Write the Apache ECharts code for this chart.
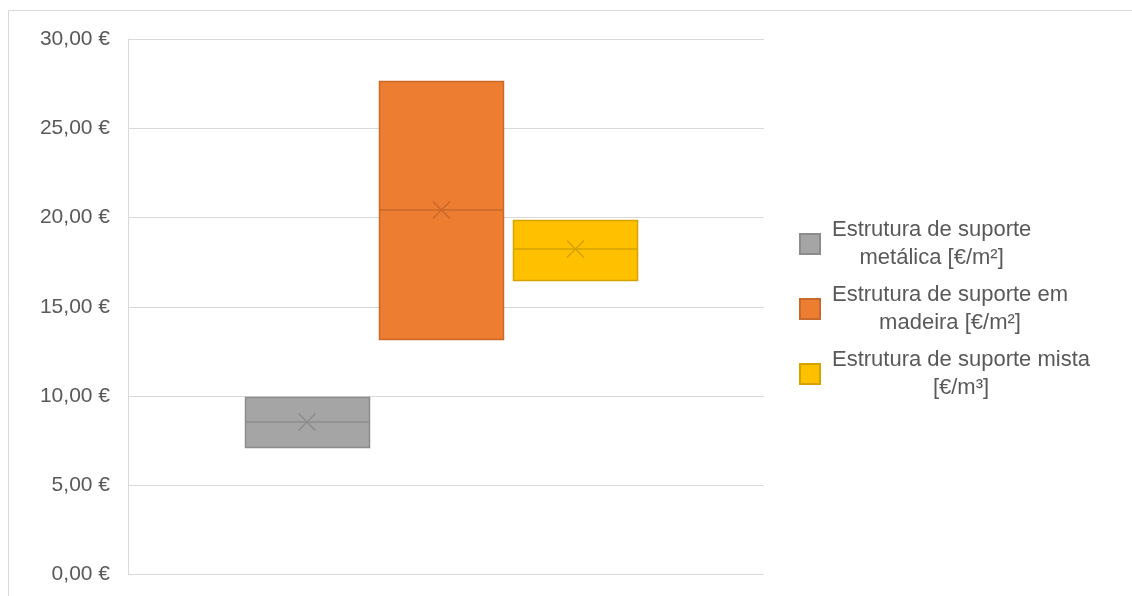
<!DOCTYPE html>
<html>
<head>
<meta charset="utf-8">
<script src="https://cdn.jsdelivr.net/npm/echarts@6/dist/echarts.min.js"></script>
<style>
html,body{margin:0;padding:0;background:#fff;}
#chart{width:1132px;height:596px;}
</style>
</head>
<body>
<div id="chart"></div>
<script>
// ---- data ----
const categories = [''];
const seriesNames = [
  'Estrutura de suporte metálica [€/m²]',
  'Estrutura de suporte em madeira [€/m²]',
  'Estrutura de suporte mista [€/m³]'
];
const legendLine1 = ['Estrutura de suporte', 'Estrutura de suporte em', 'Estrutura de suporte mista'];
const legendLine2 = ['metálica [€/m²]', 'madeira [€/m²]', '[€/m³]'];
const minValues = [7.17, 13.19, 16.50];
const q1Values = [7.17, 13.19, 16.50];
const medianValues = [8.54, 20.42, 18.24];
const q3Values = [9.94, 27.65, 19.86];
const maxValues = [9.94, 27.65, 19.86];
const meanValues = [8.54, 20.42, 18.24];
const yTicks = [0, 5, 10, 15, 20, 25, 30];

// ---- style ----
const fills = ['#A5A5A5', '#ED7D31', '#FFC000'];
const borders = ['#8C8C8C', '#C96A2B', '#D6A200'];
const boxOffsets = [-0.2186, -0.0071, 0.2036];
const boxWidthFrac = 0.195;

function makeRender(idx) {
  return function (params, api) {
    const catIdx = api.value(0);
    const x = api.coord([catIdx, 0])[0];
    const band = api.size([1, 0])[0];
    const cx = x + boxOffsets[idx] * band;
    const w = boxWidthFrac * band;
    const yMin = api.coord([catIdx, api.value(1)])[1];
    const yQ1 = api.coord([catIdx, api.value(2)])[1];
    const yMed = api.coord([catIdx, api.value(3)])[1];
    const yQ3 = api.coord([catIdx, api.value(4)])[1];
    const yMax = api.coord([catIdx, api.value(5)])[1];
    const yMean = api.coord([catIdx, api.value(6)])[1];
    const left = Math.round(cx - w / 2) + 0.5;
    const right = Math.round(cx + w / 2) + 0.5;
    const stroke = borders[idx];
    const s = 8.5;
    return {
      type: 'group',
      children: [
        { type: 'line', shape: { x1: cx, y1: yMax, x2: cx, y2: yQ3 }, style: { stroke: stroke, lineWidth: 1.5 } },
        { type: 'line', shape: { x1: cx, y1: yQ1, x2: cx, y2: yMin }, style: { stroke: stroke, lineWidth: 1.5 } },
        { type: 'rect', shape: { x: left, y: Math.round(yQ3) + 0.5, width: right - left, height: Math.round(yQ1) - Math.round(yQ3) },
          style: { fill: fills[idx], stroke: stroke, lineWidth: 1.5 } },
        { type: 'line', shape: { x1: left, y1: yMed, x2: right, y2: yMed }, style: { stroke: stroke, lineWidth: 1.5 } },
        { type: 'line', shape: { x1: cx - s, y1: yMean - s, x2: cx + s, y2: yMean + s }, style: { stroke: stroke, lineWidth: 1.5 } },
        { type: 'line', shape: { x1: cx - s, y1: yMean + s, x2: cx + s, y2: yMean - s }, style: { stroke: stroke, lineWidth: 1.5 } }
      ]
    };
  };
}

const series = seriesNames.map(function (name, i) {
  return {
    name: name,
    type: 'custom',
    renderItem: makeRender(i),
    itemStyle: { color: fills[i], borderColor: borders[i], borderWidth: 1.5 },
    encode: { x: 0, y: [1, 2, 3, 4, 5] },
    data: [[0, minValues[i], q1Values[i], medianValues[i], q3Values[i], maxValues[i], meanValues[i]]]
  };
});

const chart = echarts.init(document.getElementById('chart'), null, { renderer: 'canvas' });
chart.setOption({
  animation: false,
  backgroundColor: '#ffffff',
  graphic: [{
    type: 'rect', silent: true,
    shape: { x: 8.5, y: 10.5, width: 1140, height: 620 },
    style: { fill: 'none', stroke: '#D9D9D9', lineWidth: 1 }
  }],
  grid: { left: 128, right: 368, top: 39, bottom: 21.5 },
  xAxis: {
    type: 'category',
    data: categories,
    boundaryGap: true,
    axisLine: { show: false },
    axisTick: { show: false },
    axisLabel: { show: false },
    splitLine: { show: false }
  },
  yAxis: {
    type: 'value',
    min: yTicks[0],
    max: yTicks[yTicks.length - 1],
    interval: 5,
    axisLine: { show: true, lineStyle: { color: '#D9D9D9', width: 1 } },
    axisTick: { show: false },
    axisLabel: {
      color: '#595959',
      fontFamily: 'Liberation Sans, Arial, sans-serif',
      fontSize: 21,
      margin: 18,
      formatter: function (v) { return v.toFixed(2).replace('.', ',') + ' €'; }
    },
    splitLine: { show: true, lineStyle: { color: '#D9D9D9', width: 1 } }
  },
  legend: {
    orient: 'vertical',
    left: 794,
    top: 214,
    itemWidth: 20,
    itemHeight: 20,
    itemGap: 15,
    icon: 'rect',
    data: seriesNames,
    formatter: function (name) {
      const i = seriesNames.indexOf(name);
      return '{a|' + legendLine1[i] + '}\n{a|' + legendLine2[i] + '}';
    },
    textStyle: {
      padding: [0, 0, 0, 7],
      rich: {
        a: {
          align: 'center',
          color: '#595959',
          fontFamily: 'Liberation Sans, Arial, sans-serif',
          fontSize: 22,
          lineHeight: 28
        }
      }
    }
  },
  series: series
});
</script>
</body>
</html>
